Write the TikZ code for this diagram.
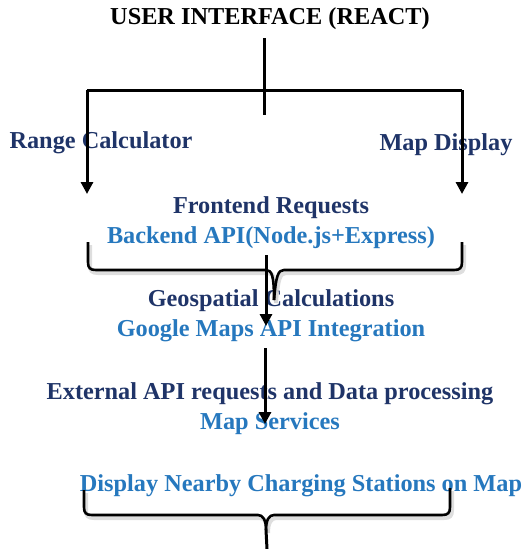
\documentclass[tikz,border=0pt]{standalone}
\usepackage{fontspec}
\setmainfont{Liberation Serif}
\usetikzlibrary{arrows.meta}
\definecolor{navy}{RGB}{31,52,104}
\definecolor{lblue}{RGB}{38,120,190}
\begin{document}
\begin{tikzpicture}[x=1pt,y=-1pt,
  lbl/.style={font=\fontsize{24.3}{26}\selectfont\bfseries, inner sep=0pt, anchor=center},
  navytxt/.style={lbl, text=navy},
  bluetxt/.style={lbl, text=lblue},
  conn/.style={line width=3pt, black},
  arr/.style={conn, -{Triangle[width=12pt,length=12pt]}},
  brc/.style={line width=2.6pt, black, line join=round},
  shd/.style={line width=4pt, black!18, opacity=0.7}]
\useasboundingbox (0,0) rectangle (532,549);
\fill[white] (0,0) rectangle (532,549);
% texts
\node[lbl, text=black] (title) at (270,19) {USER INTERFACE (REACT)};
\node[navytxt] (range) at (101,143) {Range Calculator};
\node[navytxt] (mapd) at (446,145) {Map Display};
\node[navytxt] (front) at (271,208) {Frontend Requests};
\node[bluetxt] (back) at (271,238) {Backend API(Node.js+Express)};
\node[navytxt] (geo) at (271,301) {Geospatial Calculations};
\node[bluetxt] (gmaps) at (271,331) {Google Maps API Integration};
\node[navytxt] (ext) at (270,394) {External API requests and Data processing};
\node[bluetxt] (msrv) at (270,424) {Map Services};
\node[bluetxt] (disp) at (301,486) {Display Nearby Charging Stations on Map};
% coordinates
\coordinate (t1) at (264,38);
\coordinate (t2) at (264,115);
\coordinate (hl) at (87,90);
\coordinate (hr) at (462,90);
\coordinate (al) at (87,194);
\coordinate (ar) at (462,194);
\coordinate (a1s) at (266,255);
\coordinate (a1e) at (266,326);
\coordinate (a2s) at (265,348);
\coordinate (a2e) at (265,424);
\coordinate (bot) at (267,549);
% top tree
\draw[conn] (t1) -- (t2);
\draw[conn] (al |- hl) -- (hr);
\draw[arr] (hl) -- (al);
\draw[arr] (hr) -- (ar);
% brace 1 shadow and brace
\begin{scope}[shift={(2,3)}]
\draw[shd] (88,242) -- (88,262) .. controls (88,268) and (90,270) .. (96,270) -- (266,270) .. controls (272,270) and (274,276) .. (274,300);
\draw[shd] (462,242) -- (462,262) .. controls (462,268) and (460,270) .. (454,270) -- (284,270) .. controls (278,270) and (276,276) .. (274,300);
\end{scope}
\draw[brc] (88,242) -- (88,262) .. controls (88,268) and (90,270) .. (96,270) -- (266,270) .. controls (272,270) and (274,276) .. (274,300);
\draw[brc] (462,242) -- (462,262) .. controls (462,268) and (460,270) .. (454,270) -- (284,270) .. controls (278,270) and (276,276) .. (274,300);
\draw[arr] (a1s) -- (a1e);
\draw[arr] (a2s) -- (a2e);
% brace 2
\begin{scope}[shift={(2,3)}]
\draw[shd] (84,490) -- (84,507) .. controls (84,513) and (86,515) .. (92,515) -- (258,515) .. controls (263,515) and (266,520) .. (266,530);
\draw[shd] (450,488) -- (450,507) .. controls (450,513) and (448,515) .. (442,515) -- (274,515) .. controls (269,515) and (266,520) .. (266,530);
\end{scope}
\draw[brc] (84,490) -- (84,507) .. controls (84,513) and (86,515) .. (92,515) -- (258,515) .. controls (263,515) and (266,520) .. (266,530);
\draw[brc] (450,488) -- (450,507) .. controls (450,513) and (448,515) .. (442,515) -- (274,515) .. controls (269,515) and (266,520) .. (266,530);
\coordinate (btip) at (266,530);
\draw[conn] (btip) -- (bot);
\end{tikzpicture}
\end{document}
